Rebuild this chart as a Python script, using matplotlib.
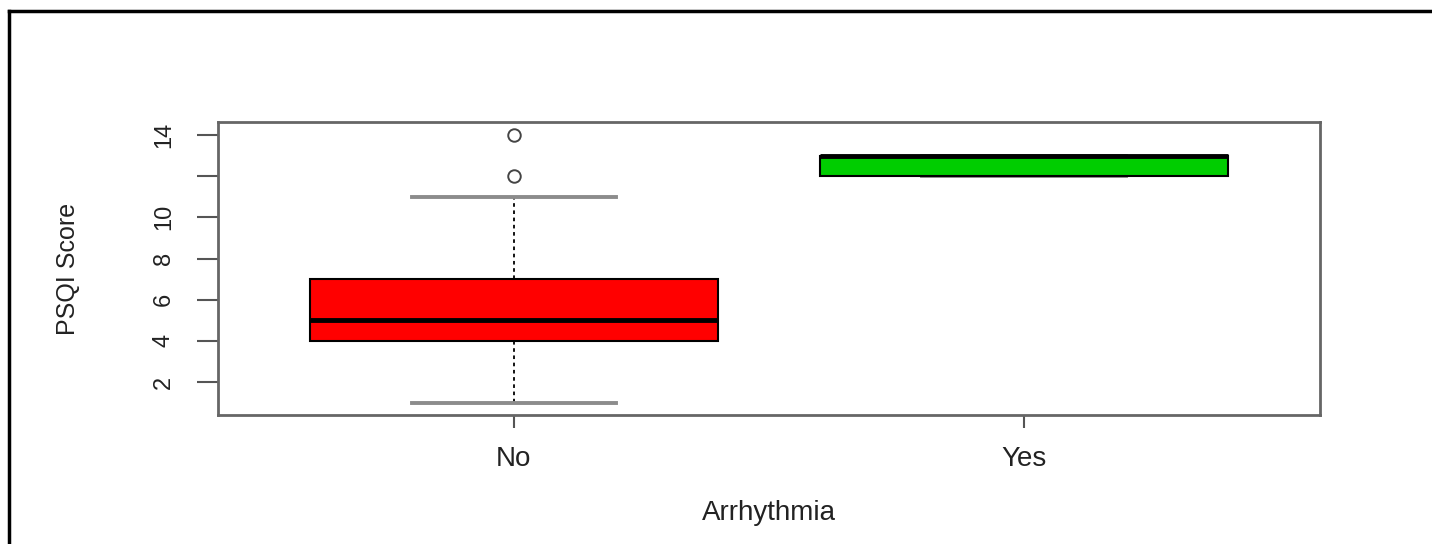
import matplotlib.pyplot as plt
from matplotlib.lines import Line2D

plt.rcParams['font.family'] = ['Liberation Sans', 'DejaVu Sans']

# box statistics
groups = ['No', 'Yes']
whislo = [1, 12]
q1 = [4, 12]
med = [5, 13]
q3 = [7, 13]
whishi = [11, 13]
fliers = [[12, 14], []]
colors = ['#ff0000', '#00cd00']

yticks = [2, 4, 6, 8, 10, 12, 14]
ytick_labels = ['2', '4', '6', '8', '10', '', '14']

stats = []
for i, g in enumerate(groups):
    stats.append(dict(label=g, whislo=whislo[i], q1=q1[i], med=med[i],
                      q3=q3[i], whishi=whishi[i], fliers=fliers[i]))

fig = plt.figure(figsize=(14.32, 5.44), dpi=100)
ax = fig.add_axes([218 / 1432, 1 - 415 / 544, 1102 / 1432, 293 / 544])

bp = ax.bxp(stats, positions=[1, 2], widths=0.8, patch_artist=True,
            showfliers=True,
            boxprops=dict(edgecolor='black', linewidth=1.5, zorder=3),
            medianprops=dict(color='black', linewidth=3.5, zorder=4),
            whiskerprops=dict(color='black', linestyle=(0, (2, 2)), linewidth=1.3, zorder=1),
            capprops=dict(color='#8c8c8c', linewidth=2.8, zorder=1),
            capwidths=0.4,
            flierprops=dict(marker='o', markerfacecolor='none',
                            markeredgecolor='#444444', markersize=9,
                            markeredgewidth=1.4))
for patch, c in zip(bp['boxes'], colors):
    patch.set_facecolor(c)

ax.set_xlim(0.42, 2.58)
ax.set_ylim(0.4, 14.63)
ax.set_yticks(yticks)
ax.set_yticklabels(ytick_labels, rotation=90, va='center', fontsize=17, color='#222222')
ax.set_xticks([1, 2])
ax.set_xticklabels(groups, fontsize=20, color='#222222')
ax.tick_params(axis='y', length=15, width=1.5, color='#555555', pad=16)
ax.tick_params(axis='x', length=9.4, width=1.5, color='#555555', pad=13)

for s in ax.spines.values():
    s.set_color('#666666')
    s.set_linewidth(2)

ax.set_xlabel('Arrhythmia', fontsize=20, color='#222222', labelpad=20)
ax.set_ylabel('PSQI Score', fontsize=18, color='#222222')
ax.yaxis.set_label_coords(-0.125, 0.5)

# outer frame (top and left edges visible)
fig.add_artist(Line2D([9 / 1432, 9 / 1432], [0, 1 - 11 / 544], color='black', linewidth=2.5))
fig.add_artist(Line2D([9 / 1432, 1], [1 - 11 / 544, 1 - 11 / 544], color='black', linewidth=2.5))

fig.savefig('out.png', dpi=100)
